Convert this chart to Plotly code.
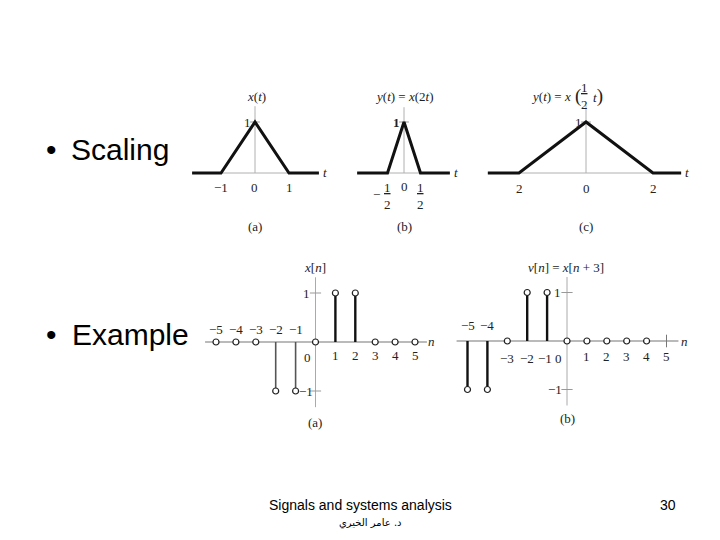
import plotly.graph_objects as go

W, H = 720, 540

# ---------------- data ----------------
# continuous signals (t, value)
t_a = [-1.85, -1, 0, 1, 1.88]
x_a = [0, 0, 1, 0, 0]
t_b = [-1.42, -0.5, 0, 0.5, 1.39]
y_b = [0, 0, 1, 0, 0]
t_c = [-2.93, -2, 0, 2, 2.84]
y_c = [0, 0, 1, 0, 0]

ticks_a = [-1, 0, 1]
ticklab_a = ["\u22121", "0", "1"]
ticks_c = [-2, 0, 2]
ticklab_c = ["2", "0", "2"]

# discrete signals
n_vals = [-5, -4, -3, -2, -1, 0, 1, 2, 3, 4, 5]
x_n = [0, 0, 0, -1, -1, 0, 1, 1, 0, 0, 0]
v_n = [-1, -1, 0, 1, 1, 0, 0, 0, 0, 0, 0]
v_has_circle = [1, 1, 1, 1, 1, 1, 1, 1, 1, 1, 0]

# ---------------- helpers ----------------
def P(px, py):
    return px / W, 1 - py / H

def setup(fig, idx, ox, oy, sx, sy, box):
    px0, px1, py0, py1 = box
    xa = dict(domain=[px0 / W, px1 / W], range=[(px0 - ox) / sx, (px1 - ox) / sx],
              visible=False, fixedrange=True)
    ya = dict(domain=[1 - py1 / H, 1 - py0 / H], range=[(oy - py1) / sy, (oy - py0) / sy],
              visible=False, fixedrange=True)
    suf = "" if idx == 1 else str(idx)
    ya["anchor"] = "x" + suf
    xa["anchor"] = "y" + suf
    fig.update_layout(**{"xaxis" + suf: xa, "yaxis" + suf: ya})
    return "x" + suf, "y" + suf

SERIF = "Liberation Serif"
LBL = dict(family=SERIF, size=13, color="#222")

fig = go.Figure()
annots = []

def txt(x, y, text, xref="paper", yref="paper", font=LBL, xanchor="center", yanchor="middle",
        xshift=0, yshift=0):
    annots.append(dict(x=x, y=y, xref=xref, yref=yref, text=text, showarrow=False, font=font,
                       xanchor=xanchor, yanchor=yanchor, xshift=xshift, yshift=yshift))

def tickmark(xr, yr, xs, ys, symbol, size, color):
    fig.add_trace(go.Scatter(x=xs, y=ys, mode="markers",
                             marker=dict(symbol=symbol, size=size, color=color,
                                         line=dict(color=color, width=1)),
                             xaxis=xr, yaxis=yr, showlegend=False, hoverinfo="skip"))

def continuous(idx, ox, oy, sx, sy, box, t, v, vtop):
    xr, yr = setup(fig, idx, ox, oy, sx, sy, box)
    fig.add_trace(go.Scatter(x=[t[0], t[-1]], y=[0, 0], mode="lines",
                             line=dict(color="#b0b0b0", width=1), xaxis=xr, yaxis=yr,
                             showlegend=False, hoverinfo="skip"))
    fig.add_trace(go.Scatter(x=[0, 0], y=[0, vtop], mode="lines",
                             line=dict(color="#b0b0b0", width=1), xaxis=xr, yaxis=yr,
                             showlegend=False, hoverinfo="skip"))
    tickmark(xr, yr, [0], [1], "line-ew-open", 7, "#999")
    fig.add_trace(go.Scatter(x=t, y=v, mode="lines", line=dict(color="#111", width=3),
                             xaxis=xr, yaxis=yr, showlegend=False))
    return xr, yr

# ---------- continuous (a) ----------
xr, yr = continuous(1, 255, 173, 34, 51, (185, 340, 85, 235), t_a, x_a, 1.31)
for tv, tl in zip(ticks_a, ticklab_a):
    txt(tv, 0, tl, xr, yr, yshift=-14)
txt(0, 1, "1", xr, yr, xanchor="right", xshift=-2)
txt(*P(325, 172), "<i>t</i>")
txt(*P(256, 96), "<i>x</i>(<i>t</i>)")
txt(*P(255, 226), "(a)")

# ---------- continuous (b) ----------
xr, yr = continuous(2, 404, 173, 33, 51, (345, 472, 85, 235), t_b, y_b, 1.29)
txt(0, 0, "0", xr, yr, yshift=-13)
txt(-0.5, 0, "<u>1</u><br>2", xr, yr, yanchor="top", yshift=-5)
txt(-0.5, 0, "\u2212", xr, yr, xshift=-11, yshift=-21)
txt(0.5, 0, "<u>1</u><br>2", xr, yr, yanchor="top", yshift=-5)
txt(0, 1, "<b>1</b>", xr, yr, xanchor="right", xshift=-2)
txt(*P(456, 172), "<i>t</i>")
txt(*P(404, 96), "<i>y</i>(<i>t</i>) = <i>x</i>(2<i>t</i>)")
txt(*P(404, 226), "(b)")

# ---------- continuous (c) ----------
xr, yr = continuous(3, 586, 173, 33.5, 51, (478, 705, 85, 235), t_c, y_c, 1.33)
for tv, tl in zip(ticks_c, ticklab_c):
    txt(tv, 0, tl, xr, yr, yshift=-15)
txt(0, 1, "1", xr, yr, xanchor="right", xshift=-2)
txt(*P(687, 172), "<i>t</i>")
txt(*P(573, 96), "<i>y</i>(<i>t</i>) = <i>x</i>", xanchor="right")
txt(*P(573, 96), "<span style='font-size:19px'>(</span>", xanchor="left")
txt(*P(584, 96), "<u>1</u><br>2", xanchor="center")
txt(*P(591, 96), "<i>t</i><span style='font-size:19px'>)</span>", xanchor="left")
txt(*P(586, 226), "(c)")

# ---------- discrete ----------
def discrete(idx, ox, oy, sx, sy, box, n, vals, stem_colors, stem_widths, circle_mask):
    xr, yr = setup(fig, idx, ox, oy, sx, sy, box)
    fig.add_trace(go.Scatter(x=[n[0] - 0.55, n[-1] + 0.6], y=[0, 0], mode="lines",
                             line=dict(color="#777", width=1.2), xaxis=xr, yaxis=yr,
                             showlegend=False, hoverinfo="skip"))
    fig.add_trace(go.Scatter(x=[0, 0], y=[-1.33, 1.32], mode="lines",
                             line=dict(color="#aaa", width=1), xaxis=xr, yaxis=yr,
                             showlegend=False, hoverinfo="skip"))
    tickmark(xr, yr, [0, 0], [1, -1], "line-ew-open", 8, "#999")
    for k, v in zip(n, vals):
        if v != 0:
            fig.add_trace(go.Scatter(x=[k, k], y=[0, v], mode="lines",
                                     line=dict(color=stem_colors[k], width=stem_widths[k]),
                                     xaxis=xr, yaxis=yr, showlegend=False, hoverinfo="skip"))
    cx = [k for k, m in zip(n, circle_mask) if m]
    cy = [v for v, m in zip(vals, circle_mask) if m]
    fig.add_trace(go.Scatter(x=cx, y=cy, mode="markers",
                             marker=dict(symbol="circle", size=6, color="white",
                                         line=dict(color="#222", width=1.2)),
                             xaxis=xr, yaxis=yr, showlegend=False, cliponaxis=False))
    nc = [k for k, m in zip(n, circle_mask) if not m]
    if nc:
        tickmark(xr, yr, nc, [0] * len(nc), "line-ns-open", 9, "#777")
    return xr, yr

# (a) x[n]
stem_c_a = {-2: "#555", -1: "#555", 1: "#111", 2: "#111"}
stem_w_a = {-2: 1.6, -1: 1.6, 1: 2.4, 2: 2.4}
xr, yr = discrete(4, 315.5, 342, 19.9, 49, (200, 440, 250, 430), n_vals, x_n,
                  stem_c_a, stem_w_a, [1] * 11)
for k in n_vals:
    if k < 0:
        txt(k, 0, "\u2212%d" % (-k), xr, yr, yshift=13)
    elif k == 0:
        txt(k, 0, "0", xr, yr, xshift=-8, yshift=-15)
    else:
        txt(k, 0, str(k), xr, yr, yshift=-13)
txt(0, 1, "1", xr, yr, xanchor="right", xshift=-4)
txt(0, -1, "\u22121", xr, yr, xanchor="right", xshift=-1)
txt(*P(431, 341), "<i>n</i>")
txt(*P(315, 267), "<i>x</i>[<i>n</i>]")
txt(*P(315, 422), "(a)")

# (b) v[n]
stem_c_b = {-5: "#111", -4: "#111", -2: "#111", -1: "#111"}
stem_w_b = {-5: 2.4, -4: 2.4, -2: 2.4, -1: 2.4}
xr, yr = discrete(5, 567, 341, 19.9, 48.5, (445, 705, 250, 430), n_vals, v_n,
                  stem_c_b, stem_w_b, v_has_circle)
for k in n_vals:
    if k <= -4:
        txt(k, 0, "\u2212%d" % (-k), xr, yr, yshift=16)
    elif k < 0:
        txt(k, 0, "\u2212%d" % (-k), xr, yr, yshift=-17, xshift=(-2 if k == -1 else 0))
    elif k == 0:
        txt(k, 0, "0", xr, yr, xshift=-9, yshift=-17)
    else:
        txt(k, 0, str(k), xr, yr, yshift=-15)
txt(0, 1, "1", xr, yr, xanchor="right", xshift=-4)
txt(0, -1, "\u22121", xr, yr, xanchor="right", xshift=-3)
txt(*P(684, 341), "<i>n</i>")
txt(*P(566, 268), "<i>v</i>[<i>n</i>] = <i>x</i>[<i>n</i> + 3]")
txt(*P(567, 418), "(b)")

# ---------- slide text ----------
SANS = "Liberation Sans"
BIG = dict(family=SANS, size=30, color="#000")
txt(*P(52, 149), "\u2022", font=BIG)
txt(*P(69, 149), "Scaling", font=BIG, xanchor="left")
txt(*P(52, 334), "\u2022", font=BIG)
txt(*P(70, 334), "Example", font=BIG, xanchor="left")
txt(*P(360, 505), "Signals and systems analysis", font=dict(family=SANS, size=14, color="#000"))
txt(*P(371, 523), "د. عامر الخيري", font=dict(family="DejaVu Sans", size=10, color="#000"))
txt(*P(668, 505), "30", font=dict(family=SANS, size=14, color="#000"))

fig.update_layout(width=W, height=H, margin=dict(l=0, r=0, t=0, b=0),
                  paper_bgcolor="white", plot_bgcolor="white", showlegend=False,
                  annotations=annots)

fig.write_html("out.html", config={"displayModeBar": False},
               post_script="document.body.style.margin='0px';document.body.style.overflow='hidden';")
